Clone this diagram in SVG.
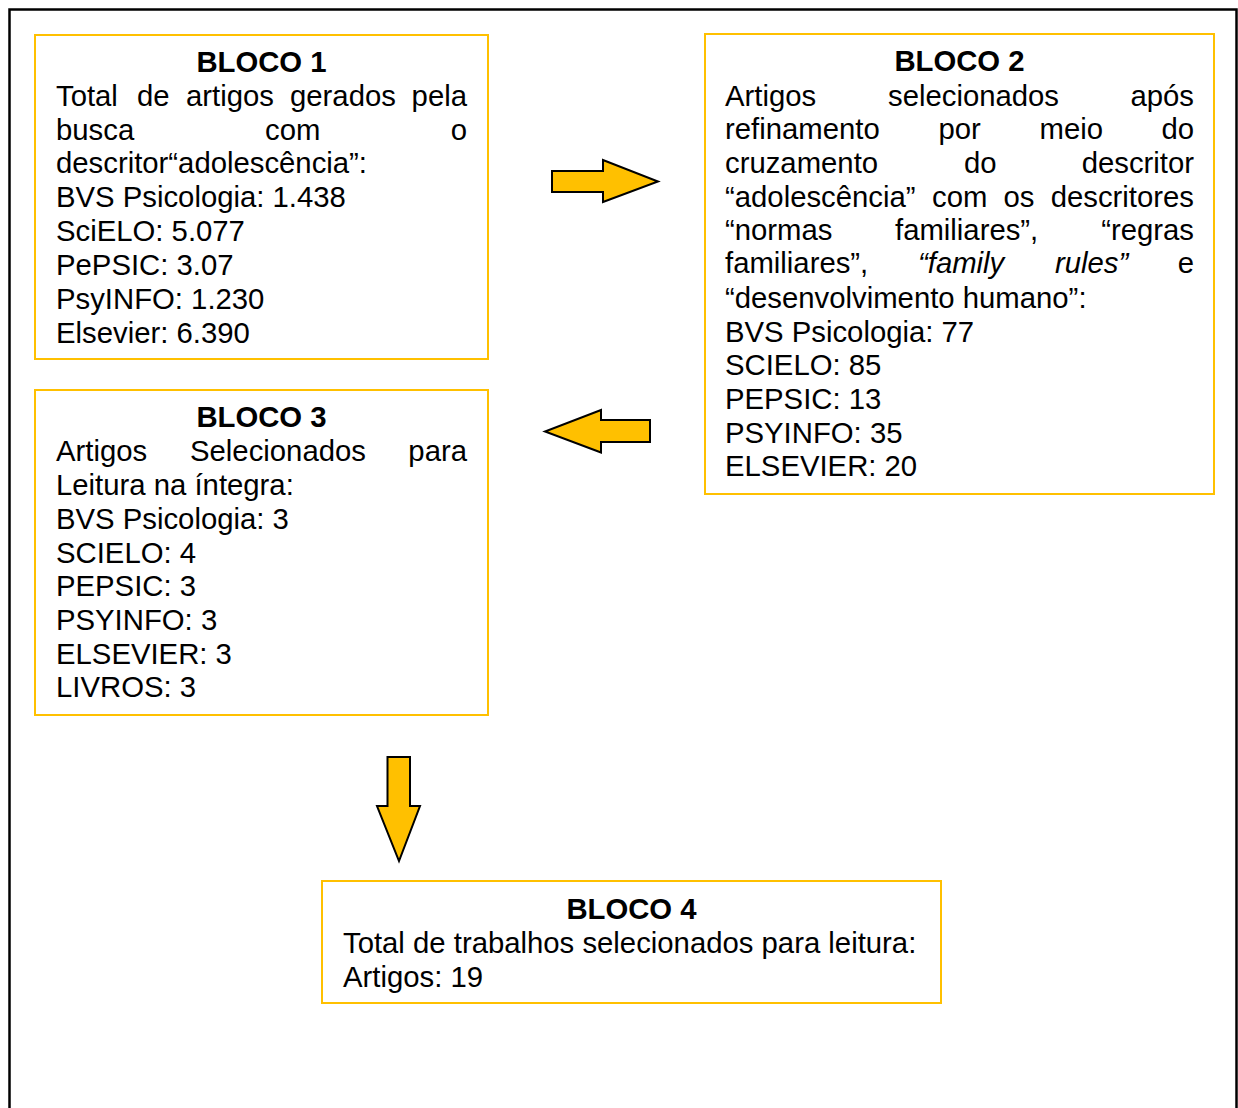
<svg xmlns="http://www.w3.org/2000/svg" width="1238" height="1108" viewBox="0 0 1238 1108">
<style>
.box{fill:#fff;stroke:#FFC000;stroke-width:2}
text{font-family:"Liberation Sans",Arial,sans-serif;font-size:29.3px;fill:#000}
.t{font-weight:bold;text-anchor:middle}
.e{text-anchor:end}
.i{font-style:italic}
.arr{fill:#FFC000;stroke:#000;stroke-width:2;stroke-linejoin:miter}
</style>
<rect x="0" y="0" width="1238" height="1108" fill="#fff"/>
<rect x="9.5" y="9.5" width="1227" height="1115" fill="none" stroke="#000" stroke-width="2.5"/>
<g id="bloco1">
<rect class="box" x="35" y="35" width="453" height="324"/>
<text class="t" x="261.5" y="72">BLOCO 1</text>
<text y="106"><tspan x="56">Total</tspan><tspan x="137">de</tspan><tspan x="186">artigos</tspan><tspan x="290">gerados</tspan><tspan x="467" class="e">pela</tspan></text>
<text y="140"><tspan x="56">busca</tspan><tspan x="265">com</tspan><tspan x="467" class="e">o</tspan></text>
<text x="56" y="173">descritor“adolescência”:</text>
<text x="56" y="207">BVS Psicologia: 1.438</text>
<text x="56" y="241">SciELO: 5.077</text>
<text x="56" y="275">PePSIC: 3.07</text>
<text x="56" y="309">PsyINFO: 1.230</text>
<text x="56" y="343">Elsevier: 6.390</text>
</g>
<g id="bloco2">
<rect class="box" x="705" y="34" width="509" height="460"/>
<text class="t" x="959.5" y="71">BLOCO 2</text>
<text y="106"><tspan x="725">Artigos</tspan><tspan x="888">selecionados</tspan><tspan x="1194" class="e">após</tspan></text>
<text y="139"><tspan x="725">refinamento</tspan><tspan x="938.5">por</tspan><tspan x="1039.5">meio</tspan><tspan x="1194" class="e">do</tspan></text>
<text y="173"><tspan x="725">cruzamento</tspan><tspan x="964">do</tspan><tspan x="1194" class="e">descritor</tspan></text>
<text y="207"><tspan x="725">“adolescência”</tspan><tspan x="932">com</tspan><tspan x="1003.5">os</tspan><tspan x="1194" class="e">descritores</tspan></text>
<text y="240"><tspan x="725">“normas</tspan><tspan x="895">familiares”,</tspan><tspan x="1194" class="e">“regras</tspan></text>
<text y="273"><tspan x="725">familiares”,</tspan><tspan x="918" class="i">“family</tspan><tspan x="1055" class="i">rules”</tspan><tspan x="1194" class="e">e</tspan></text>
<text x="725" y="308">“desenvolvimento humano”:</text>
<text x="725" y="342">BVS Psicologia: 77</text>
<text x="725" y="375">SCIELO: 85</text>
<text x="725" y="409">PEPSIC: 13</text>
<text x="725" y="443">PSYINFO: 35</text>
<text x="725" y="476">ELSEVIER: 20</text>
</g>
<g id="bloco3">
<rect class="box" x="35" y="390" width="453" height="325"/>
<text class="t" x="261.5" y="427">BLOCO 3</text>
<text y="461"><tspan x="56">Artigos</tspan><tspan x="190">Selecionados</tspan><tspan x="467" class="e">para</tspan></text>
<text x="56" y="495">Leitura na íntegra:</text>
<text x="56" y="529">BVS Psicologia: 3</text>
<text x="56" y="563">SCIELO: 4</text>
<text x="56" y="596">PEPSIC: 3</text>
<text x="56" y="630">PSYINFO: 3</text>
<text x="56" y="664">ELSEVIER: 3</text>
<text x="56" y="697">LIVROS: 3</text>
</g>
<g id="bloco4">
<rect class="box" x="322" y="881" width="619" height="122"/>
<text class="t" x="631.5" y="919">BLOCO 4</text>
<text x="343" y="953">Total de trabalhos selecionados para leitura:</text>
<text x="343" y="987">Artigos: 19</text>
</g>
<g id="connectors">
<polygon class="arr" points="552,171 603,171 603,160 658,181.5 603,202 603,192 552,192"/>
<polygon class="arr" points="650,420 601,420 601,410 545,431.5 601,452.5 601,442 650,442"/>
<polygon class="arr" points="387.5,757 410,757 410,806 420,806 399,861 377,806 387.5,806"/>
</g>
</svg>
